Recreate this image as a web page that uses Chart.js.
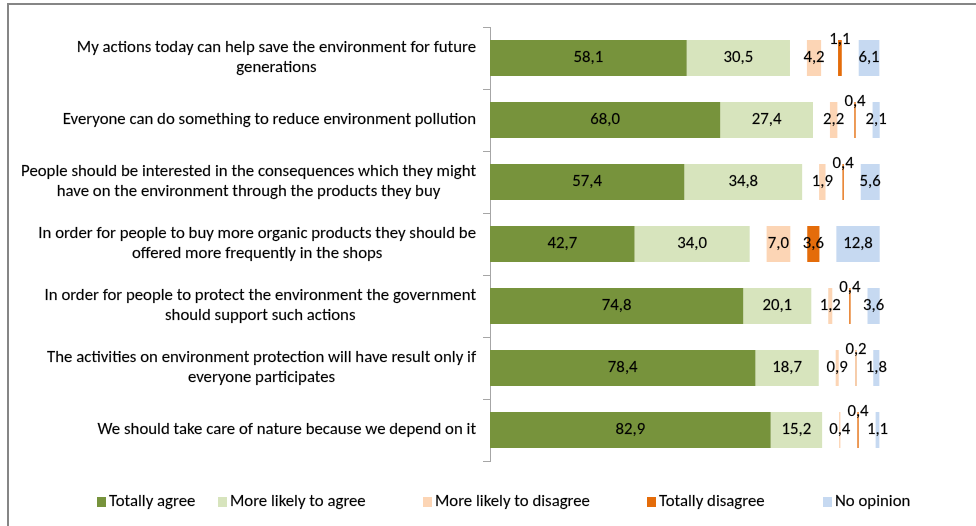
<!DOCTYPE html>
<html>
<head>
<meta charset="utf-8">
<title>Attitudes towards the environment</title>
<script src="https://cdn.jsdelivr.net/npm/chart.js@4.4.0/dist/chart.umd.min.js"></script>
<style>
    html, body { margin: 0; padding: 0; background: #fff; }
    #wrap { width: 976px; height: 526px; }
</style>
</head>
<body>
<div id="wrap"><canvas id="chart" width="976" height="526"></canvas></div>
<script>
// statements, one entry per bar (lines as they wrap on the axis)
const statements = [
    ['My actions today can help save the environment for future', 'generations'],
    ['Everyone can do something to reduce environment pollution'],
    ['People should be interested in the consequences which they might', 'have on the environment through the products they buy'],
    ['In order for people to buy more organic products they should be', 'offered more frequently in the shops'],
    ['In order for people to protect the environment the government', 'should support such actions'],
    ['The activities on environment protection will have result only if', 'everyone participates'],
    ['We should take care of nature because we depend on it']
];

const totallyAgree = [58.1, 68.0, 57.4, 42.7, 74.8, 78.4, 82.9];
const likelyAgree = [30.5, 27.4, 34.8, 34.0, 20.1, 18.7, 15.2];
const likelyDisagree = [4.2, 2.2, 1.9, 7.0, 1.2, 0.9, 0.4];
const totallyDisagree = [1.1, 0.4, 0.4, 3.6, 0.4, 0.2, 0.4];
const noOpinion = [6.1, 2.1, 5.6, 12.8, 3.6, 1.8, 1.1];
// empty run that keeps the answer groups apart
const spacer = [5, 5, 5, 5, 5, 5, 5];

const legendX = [97, 218, 423, 647, 823];

const FONT = 'Carlito, Lato, "Open Sans", sans-serif';
const SIZE = 16.8;

const fmt = v => v.toFixed(1).replace('.', ',');

// text with a hairline stroke so it reads as dark as the original
function darkText(ctx, text, x, y) {
    ctx.fillText(text, x, y);
    ctx.strokeText(text, x, y);
}

// grey frame along the top and left edge
const frame = {
    id: 'frame',
    beforeDraw(chart) {
        const ctx = chart.ctx;
        ctx.save();
        ctx.strokeStyle = '#868686';
        ctx.lineWidth = 2;
        ctx.beginPath();
        ctx.moveTo(8, chart.height);
        ctx.lineTo(8, 4);
        ctx.lineTo(chart.width, 4);
        ctx.stroke();
        ctx.restore();
    }
};

function textStyle(ctx, align) {
    ctx.font = SIZE + 'px ' + FONT;
    ctx.fillStyle = '#000';
    ctx.strokeStyle = 'rgba(0,0,0,0.35)';
    ctx.lineWidth = 0.4;
    ctx.textAlign = align;
    ctx.textBaseline = 'middle';
}

// right-aligned blocks, each line centred inside its block
const statementLabels = {
    id: 'statementLabels',
    afterDraw(chart) {
        const scale = chart.scales.y;
        const ctx = chart.ctx;
        ctx.save();
        textStyle(ctx, 'center');
        const right = scale.right - 14;
        chart.data.labels.forEach((lines, i) => {
            const widest = Math.max(...lines.map(l => ctx.measureText(l).width));
            const cx = right - widest / 2;
            const cy = scale.getPixelForTick(i);
            lines.forEach((line, k) => {
                darkText(ctx, line, cx, cy + (k - (lines.length - 1) / 2) * 20);
            });
        });
        ctx.restore();
    }
};

// value on every segment; thin orange bars get theirs on the top edge
const valueLabels = {
    id: 'valueLabels',
    afterDatasetsDraw(chart) {
        const ctx = chart.ctx;
        ctx.save();
        textStyle(ctx, 'center');
        chart.data.datasets.forEach((ds, i) => {
            if (ds.spacer) return;
            chart.getDatasetMeta(i).data.forEach((bar, j) => {
                const v = ds.data[j];
                const { x, base, y, height } = bar.getProps(['x', 'base', 'y', 'height'], true);
                const ty = (ds.labelAbove && v < 2) ? y - height / 2 : y;
                darkText(ctx, fmt(v), (x + base) / 2, ty);
            });
        });
        ctx.restore();
    }
};

const answerLegend = {
    id: 'answerLegend',
    afterDraw(chart) {
        const ctx = chart.ctx;
        ctx.save();
        textStyle(ctx, 'left');
        chart.data.datasets.filter(d => !d.spacer).forEach((d, k) => {
            const x = legendX[k];
            ctx.fillStyle = d.backgroundColor;
            ctx.fillRect(x, 497, 9, 10);
            ctx.fillStyle = '#000';
            darkText(ctx, d.label, x + 12, 502);
        });
        ctx.restore();
    }
};

const gap = { data: spacer, backgroundColor: 'rgba(0,0,0,0)', spacer: true };

new Chart(document.getElementById('chart'), {
    type: 'bar',
    data: {
        labels: statements,
        datasets: [
            { label: 'Totally agree', data: totallyAgree, backgroundColor: '#77933C' },
            { label: 'More likely to agree', data: likelyAgree, backgroundColor: '#D7E4BD' },
            { ...gap },
            { label: 'More likely to disagree', data: likelyDisagree, backgroundColor: '#FCD5B5' },
            { ...gap },
            { label: 'Totally disagree', data: totallyDisagree, backgroundColor: '#E46C0A', labelAbove: true },
            { ...gap },
            { label: 'No opinion', data: noOpinion, backgroundColor: '#C6D9F1' }
        ]
    },
    options: {
        responsive: false,
        animation: false,
        indexAxis: 'y',
        layout: { padding: { top: 27, bottom: 65, left: 0, right: 12 } },
        datasets: { bar: { categoryPercentage: 1, barPercentage: 0.58, borderWidth: 0 } },
        plugins: {
            legend: { display: false },
            tooltip: { enabled: false }
        },
        scales: {
            x: { stacked: true, display: false, min: 0, max: 140 },
            y: {
                stacked: true,
                grid: { drawOnChartArea: false, drawTicks: true, tickLength: 7, color: '#A6A6A6' },
                border: { color: '#A6A6A6' },
                ticks: { display: false },
                afterFit(scale) { scale.width = 490; }
            }
        }
    },
    plugins: [frame, statementLabels, valueLabels, answerLegend]
});
</script>
</body>
</html>
